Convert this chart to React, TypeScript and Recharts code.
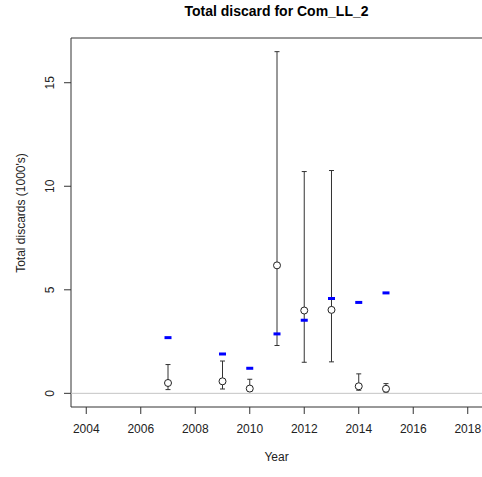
import {
  ScatterChart,
  Scatter,
  XAxis,
  YAxis,
  ErrorBar,
  ReferenceLine,
  ReferenceArea,
} from "recharts";

const years = [2007, 2009, 2010, 2011, 2012, 2013, 2014, 2015];
const estimate = [0.5, 0.58, 0.23, 6.18, 4.0, 4.03, 0.34, 0.22];
const lower = [0.18, 0.21, 0.1, 2.31, 1.5, 1.52, 0.15, 0.06];
const upper = [1.39, 1.56, 0.68, 16.5, 10.71, 10.76, 0.94, 0.47];
const observed = [2.69, 1.9, 1.21, 2.87, 3.53, 4.58, 4.39, 4.85];

const xTicks = [2004, 2006, 2008, 2010, 2012, 2014, 2016, 2018];
const yTicks = [0, 5, 10, 15];

// R style: 4% padding around the data range
const xDomain: [number, number] = [2003.44, 2018.56];
const yDomain: [number, number] = [-0.66, 17.16];

const estData = years.map((year, i) => ({
  year,
  value: estimate[i],
  err: [estimate[i] - lower[i], upper[i] - estimate[i]],
}));
const obsData = years.map((year, i) => ({ year, value: observed[i] }));

const font = '"Liberation Sans", Arial, sans-serif';

const YTick = (props: any) => {
  const { x, y, payload } = props;
  return (
    <text
      transform={`translate(${x - 8},${y}) rotate(-90)`}
      textAnchor="middle"
      fontSize={12}
      fontFamily={font}
      fill="#222"
    >
      {payload.value}
    </text>
  );
};

const OpenCircle = (props: any) => (
  <circle cx={props.cx} cy={props.cy} r={3.5} fill="#fff" stroke="#222" strokeWidth={1} />
);

const BlueDash = (props: any) => (
  <rect x={props.cx - 3.5} y={props.cy - 1.5} width={7} height={3} fill="#0000ff" />
);

export default function App() {
  return (
    <div
      style={{
        position: "absolute",
        left: 0,
        top: 0,
        width: 482,
        height: 477,
        overflow: "hidden",
        background: "#fff",
        fontFamily: font,
      }}
    >
      <ScatterChart width={484} height={477} margin={{ top: 38, right: 1, left: 21, bottom: 40 }}>
        <XAxis
          type="number"
          dataKey="year"
          domain={xDomain}
          ticks={xTicks}
          allowDataOverflow
          axisLine={false}
          tickLine={{ stroke: "#333" }}
          tickSize={7}
          tickMargin={10}
          height={30}
          tick={{ fontSize: 12, fill: "#222", fontFamily: font }}
        />
        <YAxis
          type="number"
          dataKey="value"
          domain={yDomain}
          ticks={yTicks}
          allowDataOverflow
          axisLine={false}
          tickLine={{ stroke: "#333" }}
          tickSize={7}
          width={50}
          tick={<YTick />}
        />
        <ReferenceLine y={0} stroke="#c4c4c4" strokeWidth={1} />
        <ReferenceArea
          x1={xDomain[0]}
          x2={xDomain[1]}
          y1={yDomain[0]}
          y2={yDomain[1]}
          fill="none"
          fillOpacity={0}
          stroke="#333"
          strokeWidth={1}
        />
        <Scatter data={estData} shape={<OpenCircle />} isAnimationActive={false}>
          <ErrorBar dataKey="err" direction="y" width={2.5} stroke="#333" strokeWidth={1} />
        </Scatter>
        <Scatter data={obsData} shape={<BlueDash />} isAnimationActive={false} />
      </ScatterChart>
      <div
        style={{
          position: "absolute",
          left: 0,
          width: 553,
          top: 4,
          textAlign: "center",
          fontSize: 14,
          lineHeight: "14px",
          fontWeight: "bold",
          color: "#000",
        }}
      >
        Total discard for Com_LL_2
      </div>
      <div
        style={{
          position: "absolute",
          left: 0,
          width: 553,
          top: 451,
          textAlign: "center",
          fontSize: 12,
          lineHeight: "12px",
          color: "#222",
        }}
      >
        Year
      </div>
      <div
        style={{
          position: "absolute",
          left: 21,
          top: 213,
          width: 200,
          transform: "translate(-50%, -50%) rotate(-90deg)",
          textAlign: "center",
          fontSize: 12,
          lineHeight: "12px",
          color: "#222",
          whiteSpace: "nowrap",
        }}
      >
        Total discards (1000's)
      </div>
    </div>
  );
}
